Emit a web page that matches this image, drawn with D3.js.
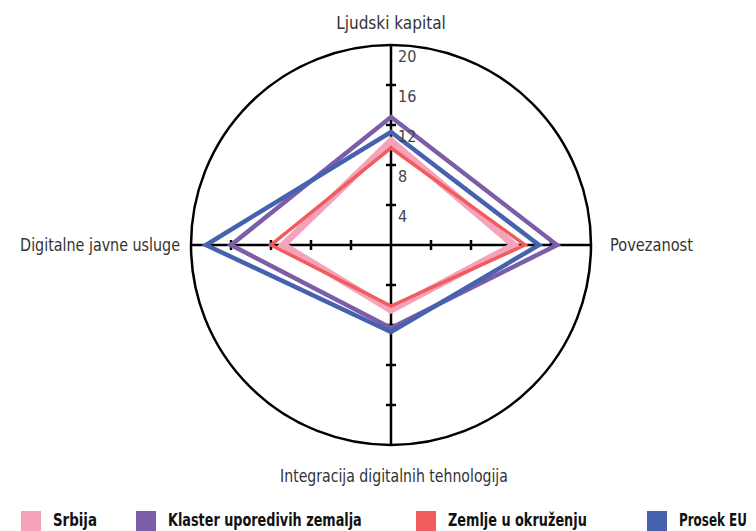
<!DOCTYPE html>
<html>
<head>
<meta charset="utf-8">
<title>Radar</title>
<script src="https://d3js.org/d3.v7.min.js"></script>
<style>
  * { margin: 0; padding: 0; }
  body { background: #fff; }
  svg { display: block; }
  .cond { font-family: "Liberation Sans Narrow", "Arial Narrow", "DejaVu Sans Condensed", sans-serif; }
</style>
</head>
<body>
<div id="chart"></div>
<script>
// podaci
const categories = ["Ljudski kapital", "Povezanost", "Integracija digitalnih tehnologija", "Digitalne javne usluge"];
const seriesNames = ["Srbija", "Klaster uporedivih zemalja", "Zemlje u okruženju", "Prosek EU"];
const srbija    = [10.4, 12.3, 6.5, 10.8];
const klaster   = [12.8, 16.6, 8.3, 16.0];
const okruzenje = [9.7, 13.4, 6.1, 12.0];
const prosekEU  = [11.3, 14.8, 8.7, 18.5];
const tickValues = [4, 8, 12, 16, 20];

const width = 756, height = 531;
const cx = 391, cy = 245, R = 200;

const svg = d3.select("#chart").append("svg")
  .attr("width", width).attr("height", height);

const r = d3.scaleLinear().domain([0, 20]).range([0, R]);
// 4 ose: gore, desno, dole, levo
const ang = (i) => i * Math.PI / 2;

const g = svg.append("g").attr("transform", `translate(${cx},${cy})`);

// krug
g.append("circle").attr("r", r(20)).attr("fill", "none")
  .attr("stroke", "#000").attr("stroke-width", 2.5);

// ose + podeoci
categories.forEach((c, i) => {
  const a = ang(i);
  g.append("line")
    .attr("x1", 0).attr("y1", 0)
    .attr("x2", Math.sin(a) * r(20)).attr("y2", -Math.cos(a) * r(20))
    .attr("stroke", "#000").attr("stroke-width", 2.5);
  tickValues.slice(0, -1).forEach(t => {
    const px = Math.sin(a) * r(t), py = -Math.cos(a) * r(t);
    const nx = Math.cos(a) * 5, ny = Math.sin(a) * 5;
    g.append("line")
      .attr("x1", px - nx).attr("y1", py - ny)
      .attr("x2", px + nx).attr("y2", py + ny)
      .attr("stroke", "#000").attr("stroke-width", 2.5);
  });
});

// serije
const series = [
  { name: seriesNames[0], values: srbija,    color: "#f4a3bb", w: 7 },
  { name: seriesNames[2], values: okruzenje, color: "#f25c5c", w: 3.5 },
  { name: seriesNames[1], values: klaster,   color: "#7b5da8", w: 4.5 },
  { name: seriesNames[3], values: prosekEU,  color: "#4661ae", w: 4.5 }
];

const line = d3.lineRadial()
  .angle((d, i) => ang(i))
  .radius(d => r(d))
  .curve(d3.curveLinearClosed);

g.selectAll("path.s").data(series).join("path")
  .attr("class", "s")
  .attr("d", d => line(d.values))
  .attr("fill", "none")
  .attr("stroke", d => d.color)
  .attr("stroke-width", d => d.w)
  .attr("stroke-linejoin", "miter")
  .attr("stroke-miterlimit", 10);

// oznake skale
g.selectAll("text.tick").data(tickValues).join("text")
  .attr("class", "tick cond")
  .attr("x", 7)
  .attr("y", d => -r(d) + 17)
  .attr("font-size", 16)
  .attr("fill", "#444")
  .text(d => d);

// tekst suzen horizontalno na zadatu sirinu (uzak font nije instaliran)
function fitText(sel, x, y, anchor, len) {
  const w = sel.node().getComputedTextLength();
  const k = Math.min(1, len / w);
  sel.attr("text-anchor", anchor)
    .attr("transform", `translate(${x},${y}) scale(${k},1)`);
}

// nazivi osa (sirine prema originalu)
const lab = svg.append("g").attr("class", "cond").attr("font-size", 17).attr("fill", "#333");
const labPos = [
  { x: cx, y: 29, anchor: "middle", len: 110 },
  { x: 610, y: cy + 6, anchor: "start", len: 83 },
  { x: cx + 3, y: 482, anchor: "middle", len: 228 },
  { x: 180, y: cy + 6, anchor: "end", len: 160 }
];
categories.forEach((c, i) => {
  const t = lab.append("text").text(c);
  fitText(t, labPos[i].x, labPos[i].y, labPos[i].anchor, labPos[i].len);
});

// legenda
const legendColors = ["#f4a3bb", "#7b5da8", "#f25c5c", "#4661ae"];
const legendX = [21, 136, 416, 647];
const legendLen = [44, 194, 139, 68];
const lg = svg.append("g");
seriesNames.forEach((n, i) => {
  lg.append("rect").attr("x", legendX[i]).attr("y", 511)
    .attr("width", 20).attr("height", 20).attr("fill", legendColors[i]);
  const t = lg.append("text").attr("class", "cond")
    .attr("font-size", 17).attr("font-weight", "bold").attr("fill", "#111")
    .text(n);
  fitText(t, legendX[i] + 32, 526, "start", legendLen[i]);
});
</script>
</body>
</html>
